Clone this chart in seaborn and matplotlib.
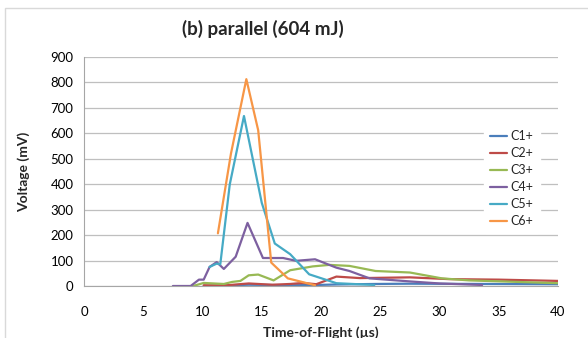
import matplotlib
matplotlib.use("Agg")
import matplotlib.pyplot as plt
import seaborn as sns
import pandas as pd
from matplotlib.patches import Rectangle

# ---- data ----
series_names = ["C1+", "C2+", "C3+", "C4+", "C5+", "C6+"]

c1_x = [10.1, 13.9, 17.4, 19.6, 21.3, 24.6, 27.5, 33.6, 40]
c1_y = [0, 5, 3, 4, 6, 8, 9, 8, 7]

c2_x = [10.1, 11.8, 13.9, 15.9, 17.4, 18.5, 19.6, 21.3, 23.3, 27.5, 30.8, 35, 40]
c2_y = [3, 2, 10, 5, 8, 12, 7, 37, 31, 34, 27, 25, 20]

c3_x = [9.2, 10.1, 11.8, 12.5, 13.2, 13.9, 14.7, 16.0, 17.4, 19.3, 20.7, 22.4, 24.6, 27.5, 30.2, 32.5, 40]
c3_y = [0, 12, 8, 16, 20, 42, 45, 22, 62, 77, 83, 79, 59, 53, 30, 22, 11]

c4_x = [7.5, 9.0, 9.7, 10.1, 10.6, 11.2, 11.8, 12.8, 13.8, 15.1, 16.8, 17.9, 19.5, 21.3, 22.4, 24.1, 27.5, 30.0, 33.6]
c4_y = [0, 0, 25, 25, 75, 94, 67, 115, 248, 110, 110, 99, 105, 72, 59, 30, 18, 10, 4]

c5_x = [10.6, 11.2, 11.5, 12.3, 13.5, 15.0, 16.1, 17.4, 19.0, 21.3, 24.5]
c5_y = [75, 88, 85, 399, 668, 327, 167, 125, 46, 11, 4]

c6_x = [11.3, 12.4, 13.7, 14.7, 15.8, 17.2, 19.5]
c6_y = [207, 520, 813, 612, 92, 30, 3]

colors = ["#4A7EBB", "#BE4B48", "#98B954", "#7D60A0", "#46AAC5", "#F79646"]

xs = [c1_x, c2_x, c3_x, c4_x, c5_x, c6_x]
ys = [c1_y, c2_y, c3_y, c4_y, c5_y, c6_y]
rows = []
for name, x, y in zip(series_names, xs, ys):
    for i, (a, b) in enumerate(zip(x, y)):
        rows.append({"t": a, "v": b, "series": name, "order": i})
df = pd.DataFrame(rows)

# ---- plot ----
sns.set_theme(style="white")
plt.rcParams["font.family"] = ["Lato", "DejaVu Sans"]

fig = plt.figure(figsize=(5.88, 3.38), dpi=100)
ax = fig.add_axes([84/588, 52/338, (558-84)/588, (286-57)/338])

sns.lineplot(data=df, x="t", y="v", hue="series", palette=colors,
             hue_order=series_names, sort=False, estimator=None,
             linewidth=1.6, ax=ax)

ax.set_xlim(0, 40)
ax.set_ylim(0, 900)
ax.set_xticks(range(0, 41, 5))
ax.set_yticks(range(0, 901, 100))
ax.tick_params(axis="both", labelsize=9.5, colors="#000000", length=4,
               width=0.8, direction="out")
ax.tick_params(axis="x", color="#A6A6A6", pad=10.5)
ax.tick_params(axis="y", color="#A6A6A6", length=4)
ax.grid(axis="y", color="#BFBFBF", linewidth=0.9)
ax.set_axisbelow(True)
for s in ["top", "right"]:
    ax.spines[s].set_visible(False)
ax.spines["left"].set_color("#A6A6A6")
ax.spines["bottom"].set_color("#A6A6A6")
ax.spines["left"].set_linewidth(0.8)
ax.spines["bottom"].set_linewidth(0.8)

ax.set_xlabel("Time-of-Flight (\u00b5s)", fontsize=10, fontweight="bold", labelpad=6)
ax.set_ylabel("Voltage (mV)", fontsize=10, fontweight="bold", labelpad=15)
fig.text(263/588, 1 - 29/338, "(b) parallel (604 mJ)", fontsize=13.5,
         fontweight="bold", ha="center", va="center")

leg = ax.legend(loc="upper left", bbox_to_anchor=(0.83, 0.735), frameon=True,
                fontsize=9, handlelength=1.4, handletextpad=0.25,
                labelspacing=0.40, borderpad=0.5)
leg.get_frame().set_facecolor("white")
leg.get_frame().set_edgecolor("white")
leg.get_frame().set_alpha(1)
for line in leg.get_lines():
    line.set_linewidth(1.6)

fig.patches.append(Rectangle((5/588, -0.1), 1.2, (338-8)/338 + 0.1,
                             transform=fig.transFigure, fill=False,
                             edgecolor="#D9D9D9", linewidth=1.0))

fig.savefig("out.png", dpi=100)
